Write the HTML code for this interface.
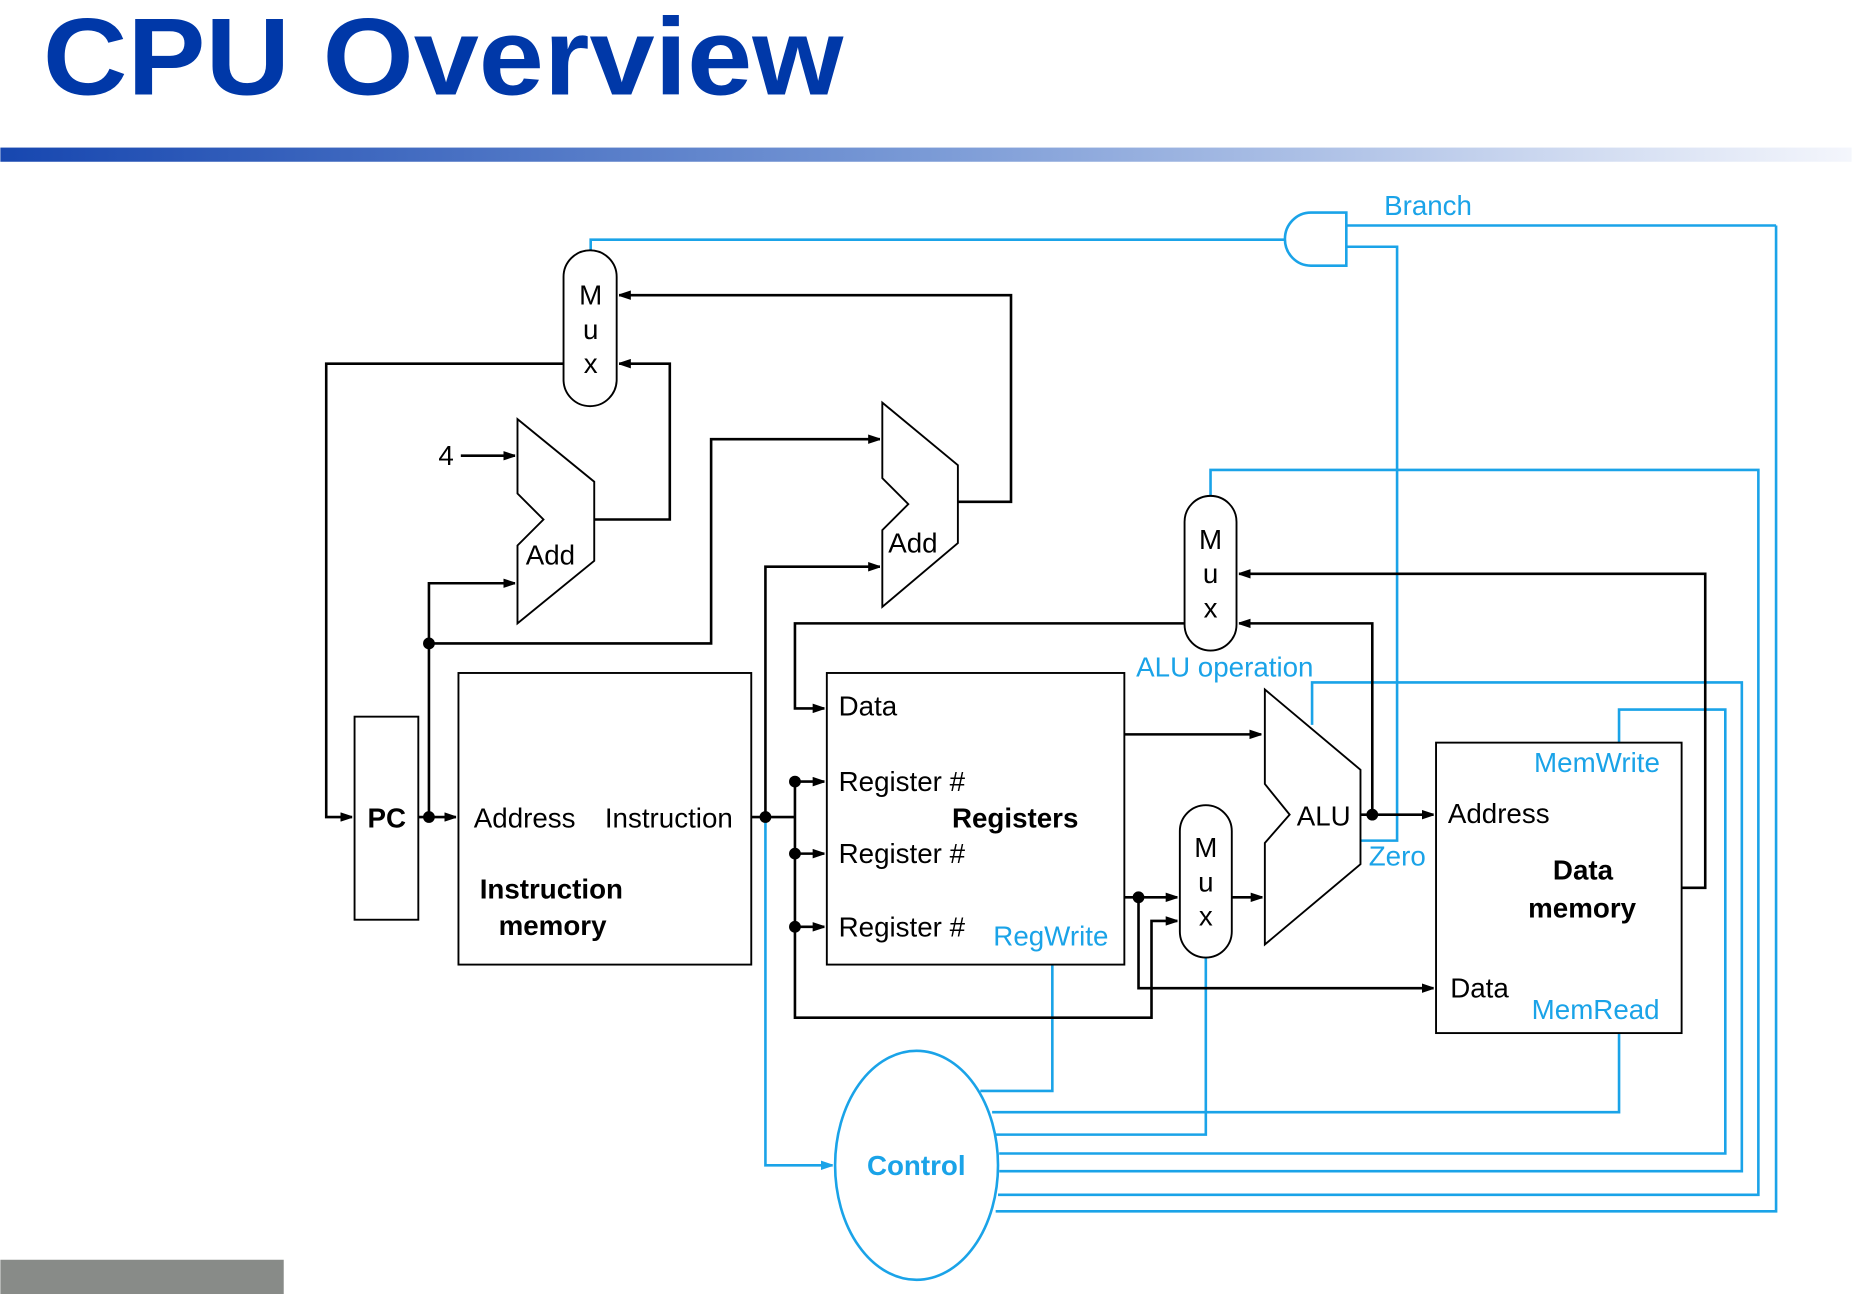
<!DOCTYPE html>
<html><head><meta charset="utf-8"><style>
html,body{margin:0;padding:0;background:#fff;}
svg{display:block;}
text{font-family:"Liberation Sans",Arial,sans-serif;}
</style></head><body>
<svg width="1852" height="1294" viewBox="0 0 1568 1096" xmlns="http://www.w3.org/2000/svg">
<defs>
<linearGradient id="g" x1="0" x2="1" y1="0" y2="0">
<stop offset="0" stop-color="#1747b0"/><stop offset="0.5" stop-color="#7a9ad6"/><stop offset="1" stop-color="#f4f6fc"/>
</linearGradient>
<marker id="a" markerWidth="10" markerHeight="8" refX="10" refY="4" orient="auto" markerUnits="userSpaceOnUse"><path d="M0,0 L12,4 L0,8 Z" fill="#000"/></marker>
<marker id="b" markerWidth="10" markerHeight="8" refX="10" refY="4" orient="auto" markerUnits="userSpaceOnUse"><path d="M0,0 L12,4 L0,8 Z" fill="#1aa3e8"/></marker>
</defs>
<rect width="1568" height="1096" fill="#fff"/>
<text x="36" y="80" font-size="93" font-weight="bold" fill="#0038a8" textLength="678" lengthAdjust="spacingAndGlyphs">CPU Overview</text>
<rect x="0" y="125" width="1568" height="12" fill="url(#g)"/>
<rect x="0" y="1067" width="240" height="29" fill="#888b88"/>

<g fill="none" stroke="#1aa3e8" stroke-width="2.2">
<polyline points="1504,191 1140,191"/>
<polyline points="1504,191 1504,1026 843,1026"/>
<polyline points="1140,209 1183,209 1183,712 1152,712"/>
<polyline points="1089,203 500,203 500,212"/>
<polyline points="1025,420 1025,398 1489,398 1489,1012 845,1012"/>
<polyline points="1111,614 1111,578 1475,578 1475,992 846,992"/>
<polyline points="1371,629 1371,601 1461,601 1461,977 846,977"/>
<polyline points="1371,875 1371,942 840,942"/>
<polyline points="1021,811 1021,961 843,961"/>
<polyline points="891,817 891,924 830,924"/>
<polyline points="648,692 648,987 705,987" marker-end="url(#b)"/>
<path d="M1140,180 H1110 A22,22.5 0 0 0 1110,225 H1140 Z" fill="#fff"/>
<ellipse cx="776" cy="987" rx="69" ry="97" fill="#fff"/>
</g>

<g fill="none" stroke="#000" stroke-width="2.2">
<polyline points="477,308 276,308 276,692 298,692" marker-end="url(#a)"/>
<polyline points="354,692 386,692" marker-end="url(#a)"/>
<polyline points="363,692 363,494 436,494" marker-end="url(#a)"/>
<polyline points="363,545 602,545 602,372 745,372" marker-end="url(#a)"/>
<polyline points="390,386 436,386" marker-end="url(#a)"/>
<polyline points="503,440 567,440 567,308 524,308" marker-end="url(#a)"/>
<polyline points="811,425 856,425 856,250 524,250" marker-end="url(#a)"/>
<polyline points="636,692 673,692"/>
<polyline points="648,692 648,480 745,480" marker-end="url(#a)"/>
<polyline points="1003,528 673,528 673,600 698,600" marker-end="url(#a)"/>
<polyline points="673,662 673,862 975,862 975,780 997,780" marker-end="url(#a)"/>
<polyline points="673,662 698,662" marker-end="url(#a)"/>
<polyline points="673,723 698,723" marker-end="url(#a)"/>
<polyline points="673,785 698,785" marker-end="url(#a)"/>
<polyline points="952,622 1068,622" marker-end="url(#a)"/>
<polyline points="952,760 997,760" marker-end="url(#a)"/>
<polyline points="964,760 964,837 1214,837" marker-end="url(#a)"/>
<polyline points="1043,760 1069,760" marker-end="url(#a)"/>
<polyline points="1152,690 1214,690" marker-end="url(#a)"/>
<polyline points="1162,690 1162,528 1049,528" marker-end="url(#a)"/>
<polyline points="1424,752 1444,752 1444,486 1049,486" marker-end="url(#a)"/>
</g>
<g fill="#000">
<circle cx="363" cy="692" r="5"/><circle cx="363" cy="545" r="5"/><circle cx="648" cy="692" r="5"/>
<circle cx="673" cy="662" r="5"/><circle cx="673" cy="723" r="5"/><circle cx="673" cy="785" r="5"/>
<circle cx="964" cy="760" r="5"/><circle cx="1162" cy="690" r="5"/>
</g>

<g fill="#fff" stroke="#000" stroke-width="1.6">
<rect x="477" y="212" width="45" height="132" rx="22.5"/>
<rect x="1003" y="420" width="44" height="131" rx="22"/>
<rect x="999" y="682" width="44" height="129" rx="22"/>
<polygon points="438,355 503,408 503,475 438,528 438,462 460,440 438,418"/>
<polygon points="747,341 811,394 811,460 747,514 747,449 769,427 747,405"/>
<polygon points="1071,584 1152,652 1152,732 1071,800 1071,714 1092,690 1071,664"/>
<rect x="300" y="607" width="54" height="172"/>
<rect x="388" y="570" width="248" height="247"/>
<rect x="700" y="570" width="252" height="247"/>
<rect x="1216" y="629" width="208" height="246"/>
</g>

<g font-size="23.5" fill="#000">
<text x="500" y="258" text-anchor="middle">M</text><text x="500" y="287" text-anchor="middle">u</text><text x="500" y="316" text-anchor="middle">x</text>
<text x="1025" y="465" text-anchor="middle">M</text><text x="1025" y="494" text-anchor="middle">u</text><text x="1025" y="523" text-anchor="middle">x</text>
<text x="1021" y="726" text-anchor="middle">M</text><text x="1021" y="755" text-anchor="middle">u</text><text x="1021" y="784" text-anchor="middle">x</text>
<text x="371" y="394">4</text>
<text x="445" y="478">Add</text>
<text x="752" y="468">Add</text>
<text x="1098" y="699">ALU</text>
<text x="401" y="701">Address</text>
<text x="512" y="701">Instruction</text>
<text x="710" y="606">Data</text>
<text x="710" y="670">Register #</text>
<text x="710" y="731">Register #</text>
<text x="710" y="793">Register #</text>
<text x="1226" y="697">Address</text>
<text x="1228" y="845">Data</text>
</g>
<g font-size="23.5" fill="#000" font-weight="bold">
<text x="311" y="701">PC</text>
<text x="406" y="761">Instruction</text>
<text x="422" y="792">memory</text>
<text x="806" y="701">Registers</text>
<text x="1315" y="745">Data</text>
<text x="1294" y="777">memory</text>
</g>
<g font-size="23.5" fill="#1aa3e8">
<text x="1172" y="182">Branch</text>
<text x="962" y="573">ALU operation</text>
<text x="1159" y="733">Zero</text>
<text x="1299" y="654">MemWrite</text>
<text x="1297" y="863">MemRead</text>
<text x="841" y="801">RegWrite</text>
<text x="734" y="995" font-weight="bold">Control</text>
</g>
</svg>
</body></html>
